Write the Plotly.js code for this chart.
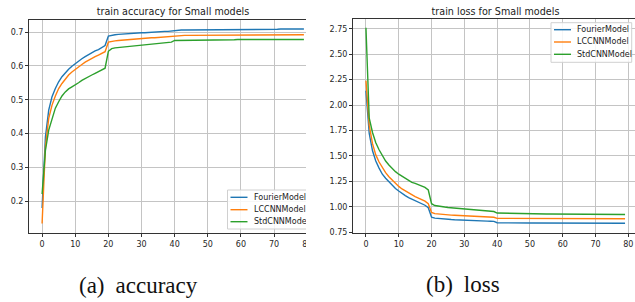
<!DOCTYPE html>
<html>
<head>
<meta charset="utf-8">
<script src="https://cdn.plot.ly/plotly-3.0.1.min.js"></script>
<style>
  html, body { margin: 0; padding: 0; background: #fff; width: 635px; height: 302px; overflow: hidden; }
  .clip { position: absolute; top: 0; height: 302px; overflow: hidden; }
  .cap { position: absolute; font-family: "Liberation Serif", "Times New Roman", serif; font-size: 23px; line-height: 23px; color: #111; white-space: pre; }
</style>
</head>
<body>
<div class="clip" style="left:0;width:306px;"><div id="p1"></div></div>
<div class="clip" style="left:315px;width:320px;"><div id="p2"></div></div>
<div class="cap" style="left:79px;top:274px;">(a)<span style="display:inline-block;width:11px"></span>accuracy</div>
<div class="cap" style="left:426px;top:273px;">(b)<span style="display:inline-block;width:11px"></span>loss</div>
<script>
const epochs = [0,1,2,3,4,5,6,7,8,9,10,11,12,13,14,15,16,17,18,19,
  20,21,22,23,24,25,26,27,28,29,30,31,32,33,34,35,36,37,38,39,
  40,41,42,43,44,45,46,47,48,49,50,51,52,53,54,55,56,57,58,59,
  60,61,62,63,64,65,66,67,68,69,70,71,72,73,74,75,76,77,78,79];
const seriesNames = ["FourierModel", "LCCNNModel", "StdCNNModel"];
const accTitle = "train accuracy for Small models";
const lossTitle = "train loss for Small models";

const accFourier = [0.180,0.390,0.469,0.509,0.533,0.553,0.568,0.580,0.590,0.599,
  0.607,0.614,0.621,0.627,0.633,0.639,0.644,0.648,0.653,0.660,
  0.688,0.691,0.692,0.693,0.694,0.695,0.695,0.696,0.697,0.697,
  0.698,0.698,0.699,0.699,0.700,0.700,0.701,0.702,0.702,0.703,
  0.706,0.706,0.706,0.706,0.706,0.706,0.706,0.706,0.706,0.707,
  0.707,0.707,0.707,0.707,0.707,0.707,0.707,0.707,0.707,0.708,
  0.708,0.708,0.708,0.708,0.708,0.708,0.708,0.708,0.708,0.708,
  0.708,0.708,0.709,0.709,0.709,0.709,0.709,0.709,0.709,0.709];
const accLCCNN = [0.134,0.360,0.445,0.484,0.511,0.533,0.548,0.562,0.573,0.582,
  0.590,0.597,0.604,0.611,0.617,0.622,0.627,0.632,0.637,0.642,
  0.670,0.673,0.674,0.675,0.676,0.677,0.678,0.679,0.680,0.680,
  0.681,0.682,0.682,0.683,0.683,0.684,0.684,0.685,0.685,0.686,
  0.689,0.689,0.690,0.690,0.690,0.690,0.690,0.690,0.691,0.691,
  0.691,0.691,0.691,0.691,0.691,0.691,0.691,0.691,0.691,0.691,
  0.692,0.692,0.692,0.692,0.692,0.692,0.692,0.692,0.692,0.692,
  0.692,0.692,0.692,0.692,0.692,0.692,0.692,0.692,0.692,0.692];
const accStdCNN = [0.221,0.350,0.410,0.445,0.475,0.494,0.511,0.523,0.532,0.538,
  0.543,0.550,0.557,0.563,0.568,0.573,0.578,0.583,0.588,0.593,
  0.643,0.651,0.653,0.654,0.655,0.656,0.657,0.658,0.659,0.660,
  0.661,0.662,0.663,0.664,0.665,0.666,0.667,0.668,0.669,0.670,
  0.675,0.675,0.675,0.676,0.676,0.676,0.676,0.676,0.676,0.677,
  0.677,0.677,0.677,0.677,0.677,0.677,0.677,0.677,0.677,0.678,
  0.678,0.678,0.678,0.678,0.678,0.678,0.678,0.678,0.678,0.678,
  0.678,0.678,0.678,0.678,0.678,0.678,0.678,0.678,0.678,0.678];

const lossFourier = [2.14,1.72,1.55,1.45,1.38,1.32,1.28,1.245,1.21,1.18,
  1.155,1.13,1.11,1.09,1.075,1.06,1.045,1.03,1.015,0.99,
  0.898,0.888,0.884,0.881,0.878,0.876,0.874,0.872,0.870,0.868,
  0.867,0.866,0.864,0.863,0.862,0.861,0.860,0.859,0.858,0.856,
  0.843,0.842,0.842,0.842,0.841,0.841,0.841,0.841,0.840,0.840,
  0.840,0.840,0.840,0.840,0.839,0.839,0.839,0.839,0.839,0.839,
  0.839,0.839,0.839,0.839,0.838,0.838,0.838,0.838,0.838,0.838,
  0.838,0.838,0.838,0.838,0.838,0.838,0.838,0.838,0.838,0.838];
const lossLCCNN = [2.24,1.80,1.62,1.51,1.44,1.38,1.335,1.295,1.26,1.23,
  1.20,1.175,1.155,1.135,1.12,1.10,1.085,1.07,1.055,1.03,
  0.944,0.932,0.928,0.925,0.922,0.920,0.918,0.916,0.914,0.912,
  0.910,0.909,0.907,0.906,0.905,0.903,0.902,0.901,0.899,0.897,
  0.886,0.886,0.885,0.885,0.885,0.884,0.884,0.884,0.884,0.884,
  0.883,0.883,0.883,0.883,0.883,0.883,0.883,0.883,0.883,0.882,
  0.882,0.882,0.882,0.882,0.882,0.882,0.882,0.882,0.882,0.882,
  0.882,0.882,0.882,0.882,0.882,0.882,0.882,0.882,0.882,0.882];
const lossStdCNN = [2.76,1.87,1.73,1.63,1.56,1.50,1.45,1.41,1.375,1.345,
  1.32,1.30,1.275,1.255,1.24,1.23,1.215,1.20,1.19,1.165,
  1.03,1.012,1.005,1.000,0.997,0.993,0.990,0.987,0.984,0.981,
  0.978,0.975,0.972,0.969,0.966,0.963,0.960,0.958,0.956,0.953,
  0.938,0.937,0.936,0.935,0.935,0.934,0.934,0.933,0.933,0.932,
  0.932,0.931,0.931,0.930,0.930,0.929,0.929,0.929,0.928,0.928,
  0.928,0.927,0.927,0.927,0.926,0.926,0.926,0.926,0.925,0.925,
  0.925,0.925,0.925,0.924,0.924,0.924,0.924,0.924,0.924,0.924];

const colors = ["#1f77b4", "#ff7f0e", "#2ca02c"];
const FONT = "DejaVu Sans, Verdana, sans-serif";

function traces(ys) {
  return ys.map((y, i) => ({
    x: epochs, y: y, type: "scatter", mode: "lines", name: seriesNames[i],
    line: { color: colors[i], width: 1.4 }, showlegend: false, hoverinfo: "skip"
  }));
}

function axisBase() {
  return {
    showgrid: true, gridcolor: "#c4c4c4", gridwidth: 1,
    showline: true, mirror: true, linecolor: "#333", linewidth: 1,
    ticks: "outside", ticklen: 3, tickwidth: 1, tickcolor: "#333",
    tickfont: { family: FONT, size: 8, color: "#262626" },
    zeroline: false, fixedrange: true
  };
}

// legend helper: coordinates given in pixels of the figure div, converted to paper
function legend(m, pw, ph, box, rows) {
  const px = v => (v - m.l) / pw;
  const py = v => (m.t + ph - v) / ph;
  const shapes = [{
    type: "rect", xref: "paper", yref: "paper",
    x0: px(box.x0), x1: px(box.x1), y0: py(box.y0), y1: py(box.y1),
    fillcolor: "rgba(255,255,255,0.85)", line: { color: "#d0d0d0", width: 1 }, layer: "above"
  }];
  const ann = [];
  rows.forEach((ry, i) => {
    shapes.push({ type: "line", xref: "paper", yref: "paper",
      x0: px(box.x0 + 3), x1: px(box.x0 + 20), y0: py(ry), y1: py(ry),
      line: { color: colors[i], width: 1.4 }, layer: "above" });
    ann.push({ xref: "paper", yref: "paper", x: px(box.x0 + 25), y: py(ry),
      xanchor: "left", yanchor: "middle", showarrow: false, text: seriesNames[i],
      font: { family: FONT, size: 8, color: "#222" }, borderpad: 0 });
  });
  return { shapes, ann };
}

// accuracy plot
(function () {
  const W = 327, H = 302, m = { l: 29, r: 10, t: 20, b: 69 };
  const pw = W - m.l - m.r, ph = H - m.t - m.b;
  const lg = legend(m, pw, ph, { x0: 227.5, x1: 309, y0: 190, y1: 229 }, [197.3, 209.7, 221.7]);
  const xa = axisBase();
  Object.assign(xa, { range: [-3.95, 82.95], tickvals: [0,10,20,30,40,50,60,70,80] });
  const ya = axisBase();
  Object.assign(ya, { range: [0.1062, 0.7355], tickvals: [0.2,0.3,0.4,0.5,0.6,0.7], ticktext: ["0.2","0.3","0.4","0.5","0.6","0.7"] });
  Plotly.newPlot("p1", traces([accFourier, accLCCNN, accStdCNN]), {
    width: W, height: H, margin: m, paper_bgcolor: "#fff", plot_bgcolor: "#fff",
    title: { text: accTitle, font: { family: FONT, size: 9.6, color: "#222" },
      x: 0.5, xref: "paper", xanchor: "center", y: 1 - 11.7 / H, yref: "container", yanchor: "middle" },
    xaxis: xa, yaxis: ya, showlegend: false, shapes: lg.shapes, annotations: lg.ann
  }, { staticPlot: true, displayModeBar: false });
})();

// loss plot
(function () {
  const W = 333, H = 302, m = { l: 38, r: 10, t: 19, b: 69 };
  const pw = W - m.l - m.r, ph = H - m.t - m.b;
  const lg = legend(m, pw, ph, { x0: 236, x1: 316.7, y0: 22.7, y1: 62.3 }, [29.7, 42, 54.3]);
  const xa = axisBase();
  Object.assign(xa, { range: [-3.95, 82.95], tickvals: [0,10,20,30,40,50,60,70,80] });
  const ya = axisBase();
  Object.assign(ya, { range: [0.742, 2.846], tickvals: [0.75,1.0,1.25,1.5,1.75,2.0,2.25,2.5,2.75], tickformat: ".2f" });
  Plotly.newPlot("p2", traces([lossFourier, lossLCCNN, lossStdCNN]), {
    width: W, height: H, margin: m, paper_bgcolor: "#fff", plot_bgcolor: "#fff",
    title: { text: lossTitle, font: { family: FONT, size: 9.6, color: "#222" },
      x: 0.5, xref: "paper", xanchor: "center", y: 1 - 11.7 / H, yref: "container", yanchor: "middle" },
    xaxis: xa, yaxis: ya, showlegend: false, shapes: lg.shapes, annotations: lg.ann
  }, { staticPlot: true, displayModeBar: false });
})();
</script>
</body>
</html>
